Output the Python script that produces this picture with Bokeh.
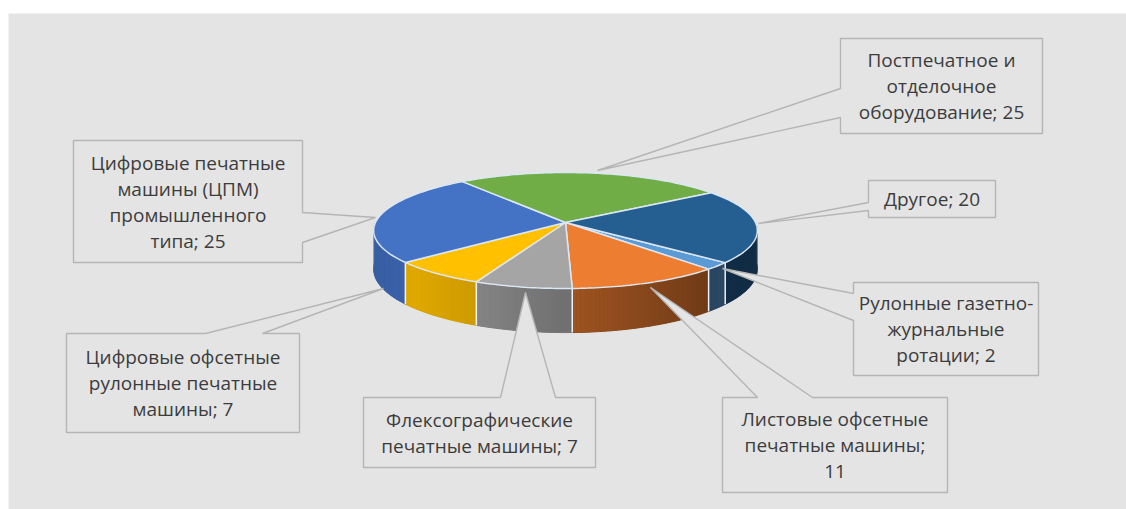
import math
import textwrap
import numpy as np
from bokeh.plotting import figure
from bokeh.models import Range1d
from bokeh.embed import file_html
from bokeh.resources import INLINE
from bokeh.core.properties import value

# ---------------- data ----------------
categories = [
    "Рулонные газетно-журнальные ротации",
    "Листовые офсетные печатные машины",
    "Флексографические печатные машины",
    "Цифровые офсетные рулонные печатные машины",
    "Цифровые печатные машины (ЦПМ) промышленного типа",
    "Постпечатное и отделочное оборудование",
    "Другое",
]
values = [2, 11, 7, 7, 25, 25, 20]
colors = ["#5B9BD5", "#ED7D31", "#A5A5A5", "#FFC000", "#4472C4", "#70AD47", "#255E91"]

# ---------------- layout ----------------
W, H = 1126, 509
CX, CY = 565, 222
RA, RB = 190.0, 56.9
K = 0.138
DEPTH = 38.0
START = -40.0
BG = "#e4e4e4"

# callout boxes: (x0, y0, x1, y1), side, base (a, b), tip, wrap width
callouts = [
    ((853, 282, 1038, 375), "left", (293, 320), (722, 268), 17),
    ((722, 397, 947, 492), "top", (757, 812), (650, 287), 17),
    ((363, 397, 595, 467), "top", (500, 555), (525, 292), 18),
    ((66, 333, 299, 432), "top", (205, 262), (383, 288), 17),
    ((73, 140, 302, 262), "right", (212, 242), (375, 217), 17),
    ((840, 38, 1042, 133), "left", (88, 117), (597, 170), 16),
    ((868, 180, 995, 217), "left", (202, 210), (758, 223), 20),
]
FONT = "Open Sans"
FSIZE = 19
LINE_H = 26


def proj(theta_deg, z):
    t = math.radians(theta_deg)
    u, v = math.cos(t), math.sin(t)
    s = 1.0 / (1.0 + K * v)
    return CX + RA * u * s, CY + (-RB * v + DEPTH * z) * s


def shade(hexcol, f):
    h = hexcol.lstrip("#")
    r, g, b = (int(h[i:i + 2], 16) for i in (0, 2, 4))
    return "#%02x%02x%02x" % (int(r * f), int(g * f), int(b * f))


def wall_factor(theta):
    tb = [-180, -135, -113, -90, -47, -10, 0]
    fb = [0.80, 0.88, 0.80, 0.68, 0.46, 0.50, 0.50]
    return float(np.interp(theta, tb, fb))


def norm(a):
    return ((a + 180.0) % 360.0) - 180.0


p = figure(width=W, height=H, x_range=Range1d(0, W), y_range=Range1d(H, 0),
           output_backend="svg", toolbar_location=None, min_border=0,
           x_axis_location=None, y_axis_location=None)
p.grid.visible = False
p.outline_line_color = None
p.background_fill_color = "white"
p.border_fill_color = "white"

# chart area
p.quad(left=[8], right=[W], top=[13], bottom=[H], fill_color=BG, line_color=None)

total = float(sum(values))
bounds = []
a = START
for v_ in values:
    a2 = a - 360.0 * v_ / total
    bounds.append((a, a2))
    a = a2

# ---------------- walls ----------------
base_x, base_y, base_c = [], [], []
strips = []
for (a1, a2), col in zip(bounds, colors):
    n = max(2, int(abs(a1 - a2) / 1.0) + 1)
    ts = np.linspace(a1, a2, n)
    vis = [t for t in ts if -180.0 <= norm(t) <= 0.0]
    if len(vis) >= 2:
        top = [proj(t, 0) for t in vis]
        bot = [proj(t, 1) for t in vis][::-1]
        base_x.append([q[0] for q in top + bot])
        base_y.append([q[1] for q in top + bot])
        midt = norm(vis[len(vis) // 2])
        base_c.append(shade(col, wall_factor(midt)))
    for t1, t2 in zip(ts[:-1], ts[1:]):
        mid = norm((t1 + t2) / 2)
        if -180.0 <= mid <= 0.0:
            p1, p2 = proj(t1, 0), proj(t2, 0)
            p3, p4 = proj(t2, 1), proj(t1, 1)
            c = shade(col, wall_factor(mid))
            strips.append((math.sin(math.radians(mid)),
                           [p1[0], p2[0], p3[0], p4[0]],
                           [p1[1], p2[1], p3[1], p4[1]], c))
# solid base under the gradient strips (hides anti-aliasing seams)
p.patches(base_x, base_y, fill_color=base_c, line_color=base_c, line_width=1)
strips.sort(key=lambda s: -s[0])
p.patches([s[1] for s in strips], [s[2] for s in strips],
          fill_color=[s[3] for s in strips], line_color=None)

# wall separators
for (a1, a2) in bounds:
    nb = norm(a1)
    if -175 < nb < -5:
        x1, y1 = proj(nb, 0)
        x2, y2 = proj(nb, 1)
        p.line([x1, x2], [y1, y2], line_color="#eef2f7", line_width=1.5)

# ---------------- top faces ----------------
xs_top, ys_top = [], []
for (a1, a2) in bounds:
    n = max(3, int(abs(a1 - a2) / 1.0) + 1)
    ts = np.linspace(a1, a2, n)
    xs_top.append([CX] + [proj(t, 0)[0] for t in ts])
    ys_top.append([CY] + [proj(t, 0)[1] for t in ts])
p.patches(xs_top, ys_top, fill_color=colors, line_color="#dce7f4", line_width=1.5)

# ---------------- callouts ----------------
cxs, cys = [], []
for (x0, y0, x1, y1), side, (b1, b2), (tx, ty), _ in callouts:
    if side == "top":
        pts = [(x0, y0), (b1, y0), (tx, ty), (b2, y0), (x1, y0), (x1, y1), (x0, y1)]
    elif side == "left":
        pts = [(x0, y0), (x1, y0), (x1, y1), (x0, y1), (x0, b2), (tx, ty), (x0, b1)]
    else:
        pts = [(x0, y0), (x1, y0), (x1, b1), (tx, ty), (x1, b2), (x1, y1), (x0, y1)]
    cxs.append([q[0] for q in pts])
    cys.append([q[1] for q in pts])
p.patches(cxs, cys, fill_color=BG, line_color="#b5b5b5", line_width=1.4)

tx_, ty_, tt_ = [], [], []
for name, val, ((x0, y0, x1, y1), side, base, tip, wrap) in zip(categories, values, callouts):
    lines = textwrap.wrap(f"{name}; {val}", width=wrap)
    cy = (y0 + y1) / 2.0
    n = len(lines)
    for i, ln in enumerate(lines):
        tx_.append((x0 + x1) / 2.0)
        ty_.append(cy + (i - (n - 1) / 2.0) * LINE_H)
        tt_.append(ln)
p.text(x=tx_, y=ty_, text=tt_, text_align="center", text_baseline="middle",
       text_font=value(FONT), text_font_size=f"{FSIZE}px", text_color="#3c3c3c")

open("out.html", "w").write(file_html(p, INLINE))
